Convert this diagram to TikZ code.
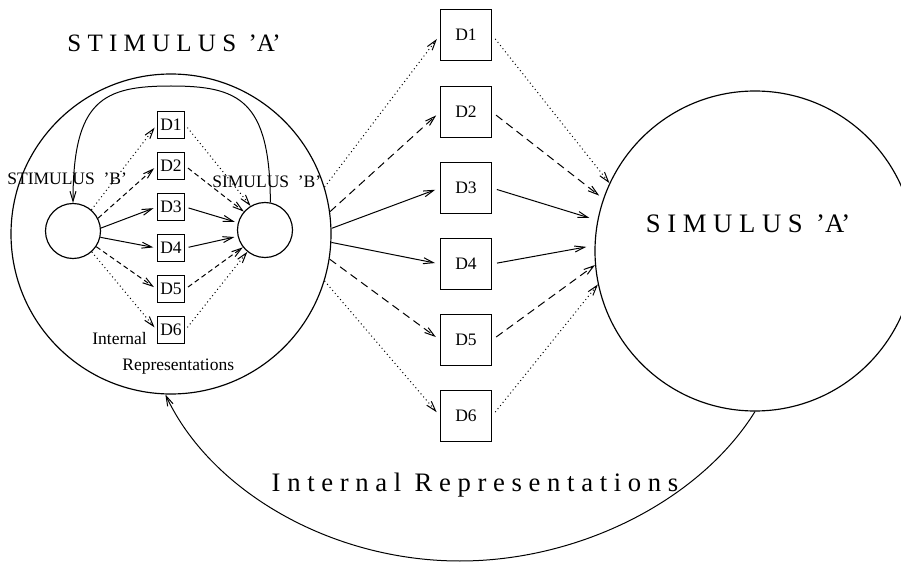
\documentclass[tikz,border=0pt]{standalone}
\usepackage{fontspec}
\setmainfont{Liberation Serif}
\usetikzlibrary{arrows.meta}
\newcommand{\labelfont}{\fontsize{10.5}{12}\selectfont}
\newcommand{\titlefont}{\fontsize{16}{19}\selectfont}
\tikzstyle{dbox} = [rectangle, draw, line width=0.7pt,
minimum size=30.6pt, inner sep=0pt, font=\labelfont]
\tikzstyle{innerbox} = [dbox, minimum size=16.5pt]
\tikzstyle{ring} = [circle, draw, line width=0.7pt, inner sep=0pt]
\tikzstyle{plaintext} = [inner sep=0pt, font=\labelfont]
\tikzstyle{arrow} = [-{Straight Barb[length=6pt, width=3.6pt]}, line width=0.6pt]
\tikzstyle{dasharrow} = [arrow, dash pattern=on 4.8pt off 3pt]
\tikzstyle{smalldash} = [arrow, dash pattern=on 3pt off 2pt]
\tikzstyle{dotarrow} = [arrow, dash pattern=on 0.6pt off 1.8pt]

\begin{document}
\begin{tikzpicture}[x=0.6pt, y=-0.6pt]
    \useasboundingbox (0,0) rectangle (901,563);
    \clip (0,0) rectangle (901,563);

    \node (stimA) [ring, minimum size=192pt] at (171,234) {};
    \node (simA)  [ring, minimum size=192pt] at (755,251) {};
    \node (lB)    [ring, minimum size=33pt] at (73,231) {};
    \node (rB)    [ring, minimum size=33pt] at (265,230) {};

    \node (i1) [innerbox] at (171,125) {D1};
    \node (i2) [innerbox] at (171,166) {D2};
    \node (i3) [innerbox] at (171,207) {D3};
    \node (i4) [innerbox] at (171,248) {D4};
    \node (i5) [innerbox] at (171,289) {D5};
    \node (i6) [innerbox] at (171,330) {D6};

    \node (d1) [dbox] at (466,35)  {D1};
    \node (d2) [dbox] at (466,112) {D2};
    \node (d3) [dbox] at (466,188) {D3};
    \node (d4) [dbox] at (466,264) {D4};
    \node (d5) [dbox] at (466,340) {D5};
    \node (d6) [dbox] at (466,416) {D6};

    \node (titleA) [anchor=base, font=\fontsize{15}{18}\selectfont] at (174,52) {S T I M U L U S\ \ 'A'};
    \node (nameA)  [anchor=base, font=\titlefont] at (748,233) {S I M U L U S\ \ 'A'};
    \node (repr)   [anchor=base, font=\titlefont] at (475,491)
    {I n t e r n a l\ \ R e p r e s e n t a t i o n s};
    \node (stimB) [plaintext, anchor=base west] at (7,185) {STIMULUS\ \ 'B'};
    \node (simB)  [plaintext, anchor=base west] at (212,188) {SIMULUS\ \ 'B'};
    \node (intl)  [plaintext, anchor=base west] at (92,344) {Internal};
    \node (reps)  [plaintext, anchor=base west] at (122,371) {Representations};

    \draw[dotarrow,  shorten >=2pt] (lB.49)  -- (i1.west);
    \draw[smalldash, shorten >=2pt] (lB.27)  -- (i2.west);
    \draw[arrow,     shorten >=2pt] (lB.6)   -- (i3.west);
    \draw[arrow,     shorten >=2pt] (lB.-13) -- (i4.west);
    \draw[smalldash, shorten >=2pt] (lB.-34) -- (i5.west);
    \draw[dotarrow,  shorten >=2pt] (lB.-48) -- (i6.west);

    \draw[dotarrow,  shorten <=2pt] (i1.east) -- (rB.121);
    \draw[smalldash, shorten <=2pt] (i2.east) -- (rB.139);
    \draw[arrow,     shorten <=2pt, shorten >=2pt] (i3.east) -- (rB.165);
    \draw[arrow,     shorten <=2pt, shorten >=2pt] (i4.east) -- (rB.193);
    \draw[smalldash, shorten <=2pt] (i5.east) -- (rB.218);
    \draw[dotarrow,  shorten <=2pt] (i6.east) -- (rB.231);

    \draw[dotarrow,  shorten >=3pt] (stimA.17)   -- (d1.west);
    \draw[dasharrow, shorten >=3pt] (stimA.8)    -- (d2.west);
    \draw[arrow,     shorten >=3pt] (stimA.2)    -- (d3.west);
    \draw[arrow,     shorten >=3pt] (stimA.-3.5) -- (d4.west);
    \draw[dasharrow, shorten >=3pt] (stimA.-9)   -- (d5.west);
    \draw[dotarrow,  shorten >=3pt] (stimA.-17)  -- (d6.west);

    \draw[dotarrow,  shorten <=3pt] (d1.east) -- (simA.155);
    \draw[dasharrow, shorten <=3pt, shorten >=3pt] (d2.east) -- (simA.161);
    \draw[arrow,     shorten <=3pt, shorten >=5pt] (d3.east) -- (simA.169);
    \draw[arrow,     shorten <=3pt, shorten >=5pt] (d4.east) -- (simA.178);
    \draw[dasharrow, shorten <=3pt] (d5.east) -- (simA.185);
    \draw[dotarrow,  shorten <=3pt] (d6.east) -- (simA.192);

    \draw[arrow] (rB.79) .. controls (270,100) and (239,86) .. (171,86)
    .. controls (103,86) and (73,100) .. (lB.north);
    \draw[arrow] (simA.south) .. controls (700,500) and (580,561) .. (460,561)
    .. controls (330,561) and (210,490) .. (stimA.268);
\end{tikzpicture}
\end{document}
